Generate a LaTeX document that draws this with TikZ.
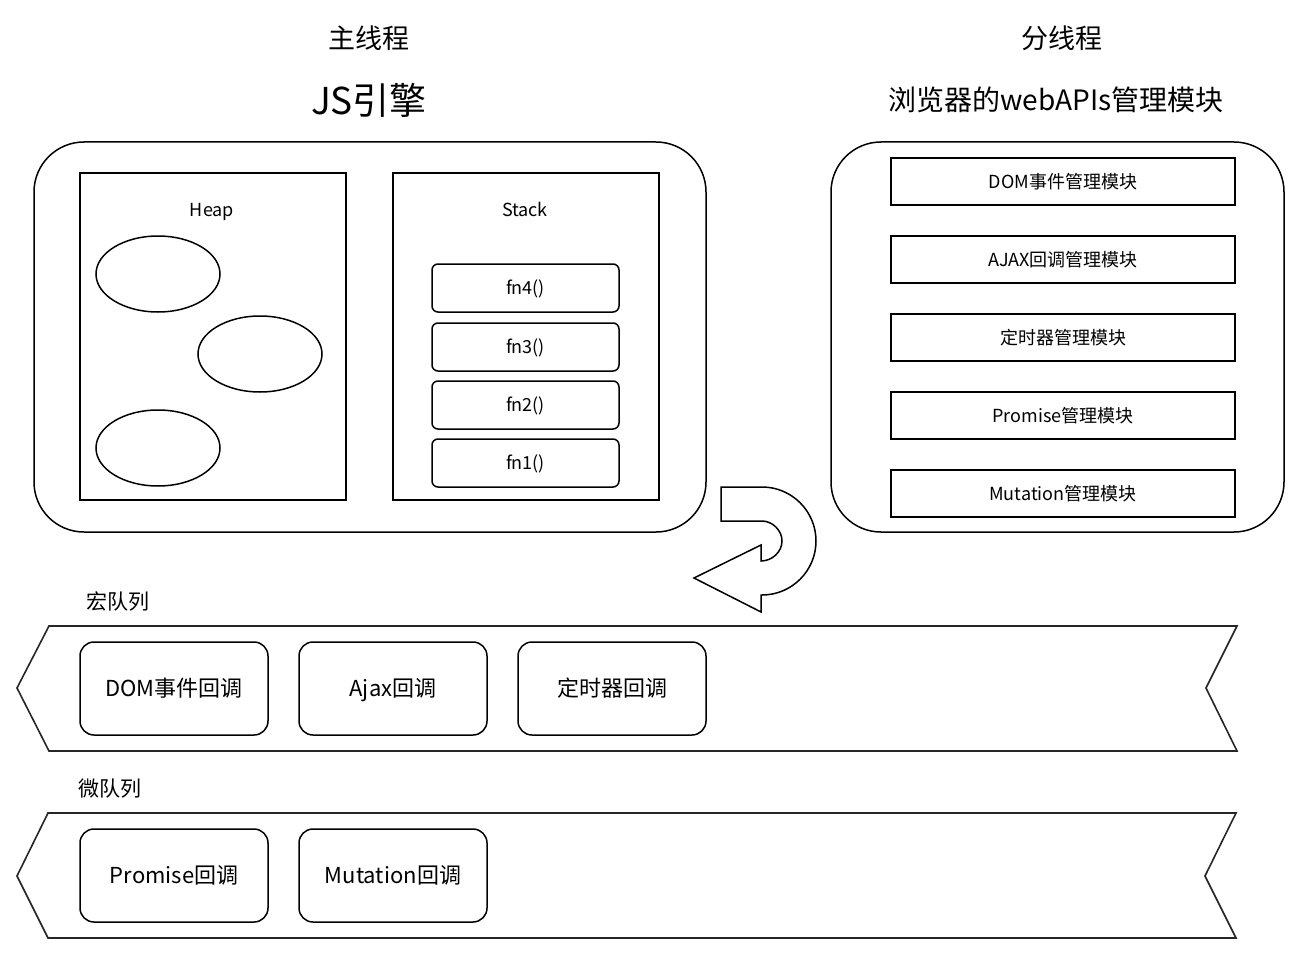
\documentclass[tikz,border=0pt]{standalone}
\usepackage{fontspec}
\setmainfont{Noto Sans CJK SC}
\usetikzlibrary{shapes.geometric}
\begin{document}
\begin{tikzpicture}[x=1pt,y=-1pt,line width=1.5pt,
  fs/.style={font=\fontsize{#1}{#1}\selectfont,text height=0.88*#1pt,text depth=0.12*#1pt},
  title/.style={fs=27},
  bigtitle/.style={fs=37},
  subtitle/.style={fs=28},
  lbl/.style={fs=18},
  qlbl/.style={fs=21},
  bigbox/.style={draw,rounded corners=50pt,minimum height=390pt,inner sep=0pt},
  pane/.style={draw,minimum width=266pt,minimum height=327pt,inner sep=0pt},
  obj/.style={draw,ellipse,minimum width=124pt,minimum height=76pt,inner sep=0pt},
  frame/.style={draw,rounded corners=6pt,minimum width=187pt,minimum height=48pt,inner sep=0pt,fs=18},
  module/.style={draw,minimum width=344pt,minimum height=47pt,inner sep=0pt,fs=18},
  cb/.style={draw,rounded corners=14pt,minimum width=188pt,minimum height=93pt,inner sep=0pt,fs=22},
  queue/.style={draw,line width=1.6pt,draw=black!85}]
\useasboundingbox (0,0) rectangle (1302,955);
\fill[white] (0,0) rectangle (1302,955);

% titles
\node[title] (t1) at (369,38) {主线程};
\node[bigtitle] (t2) at (369,100) {JS引擎};
\node[title] (t3) at (1062,38) {分线程};
\node[subtitle] (t4) at (1056,100) {浏览器的webAPIs管理模块};

% JS engine
\node[bigbox,minimum width=672pt] (engine) at (370,337) {};
\node[pane] (heap) at (213,336.5) {};
\node[lbl] (heaplbl) at (212,210) {Heap};
\node[obj] (o1) at (158,274) {};
\node[obj] (o2) at (260,354) {};
\node[obj] (o3) at (158,448) {};

\node[pane] (stack) at (526,336.5) {};
\node[lbl] (stacklbl) at (525,210) {Stack};
\node[frame] (fn4) at (525.5,288) {fn4()};
\node[frame] (fn3) at (525.5,347) {fn3()};
\node[frame] (fn2) at (525.5,405) {fn2()};
\node[frame] (fn1) at (525.5,463) {fn1()};

% web APIs
\node[bigbox,minimum width=453pt] (webapi) at (1057.5,337) {};
\node[module] (m1) at (1063,181.5) {DOM事件管理模块};
\node[module] (m2) at (1063,259.5) {AJAX回调管理模块};
\node[module] (m3) at (1063,337.5) {定时器管理模块};
\node[module] (m4) at (1063,415.5) {Promise管理模块};
\node[module] (m5) at (1063,493.5) {Mutation管理模块};

% curved arrow
\draw[line width=1.5pt,line join=miter]
  (721,487) -- (762,487)
  .. controls (791.8,487) and (816,511.2) .. (816,541)
  .. controls (816,570.8) and (791.8,595) .. (762,595)
  -- (761,595) -- (761,612) -- (694,578) -- (761,545) -- (761,561)
  .. controls (772,561) and (782,552) .. (782,541)
  .. controls (782,530) and (772,521) .. (762,521)
  -- (721,521) -- cycle;

% macro queue
\node[qlbl] (maclbl) at (118,602) {宏队列};
\draw[queue] (49,626) -- (1237,626) -- (1206,688) -- (1237,751) -- (49,751) -- (17,688) -- cycle;
\node[cb] (c1) at (174,688.5) {DOM事件回调};
\node[cb] (c2) at (393,688.5) {Ajax回调};
\node[cb] (c3) at (612,688.5) {定时器回调};

% micro queue
\node[qlbl] (miclbl) at (110,789) {微队列};
\draw[queue] (48,813) -- (1236,813) -- (1205,876) -- (1236,938) -- (48,938) -- (17,876) -- cycle;
\node[cb] (c4) at (174,875.5) {Promise回调};
\node[cb] (c5) at (393,875.5) {Mutation回调};
\end{tikzpicture}
\end{document}
